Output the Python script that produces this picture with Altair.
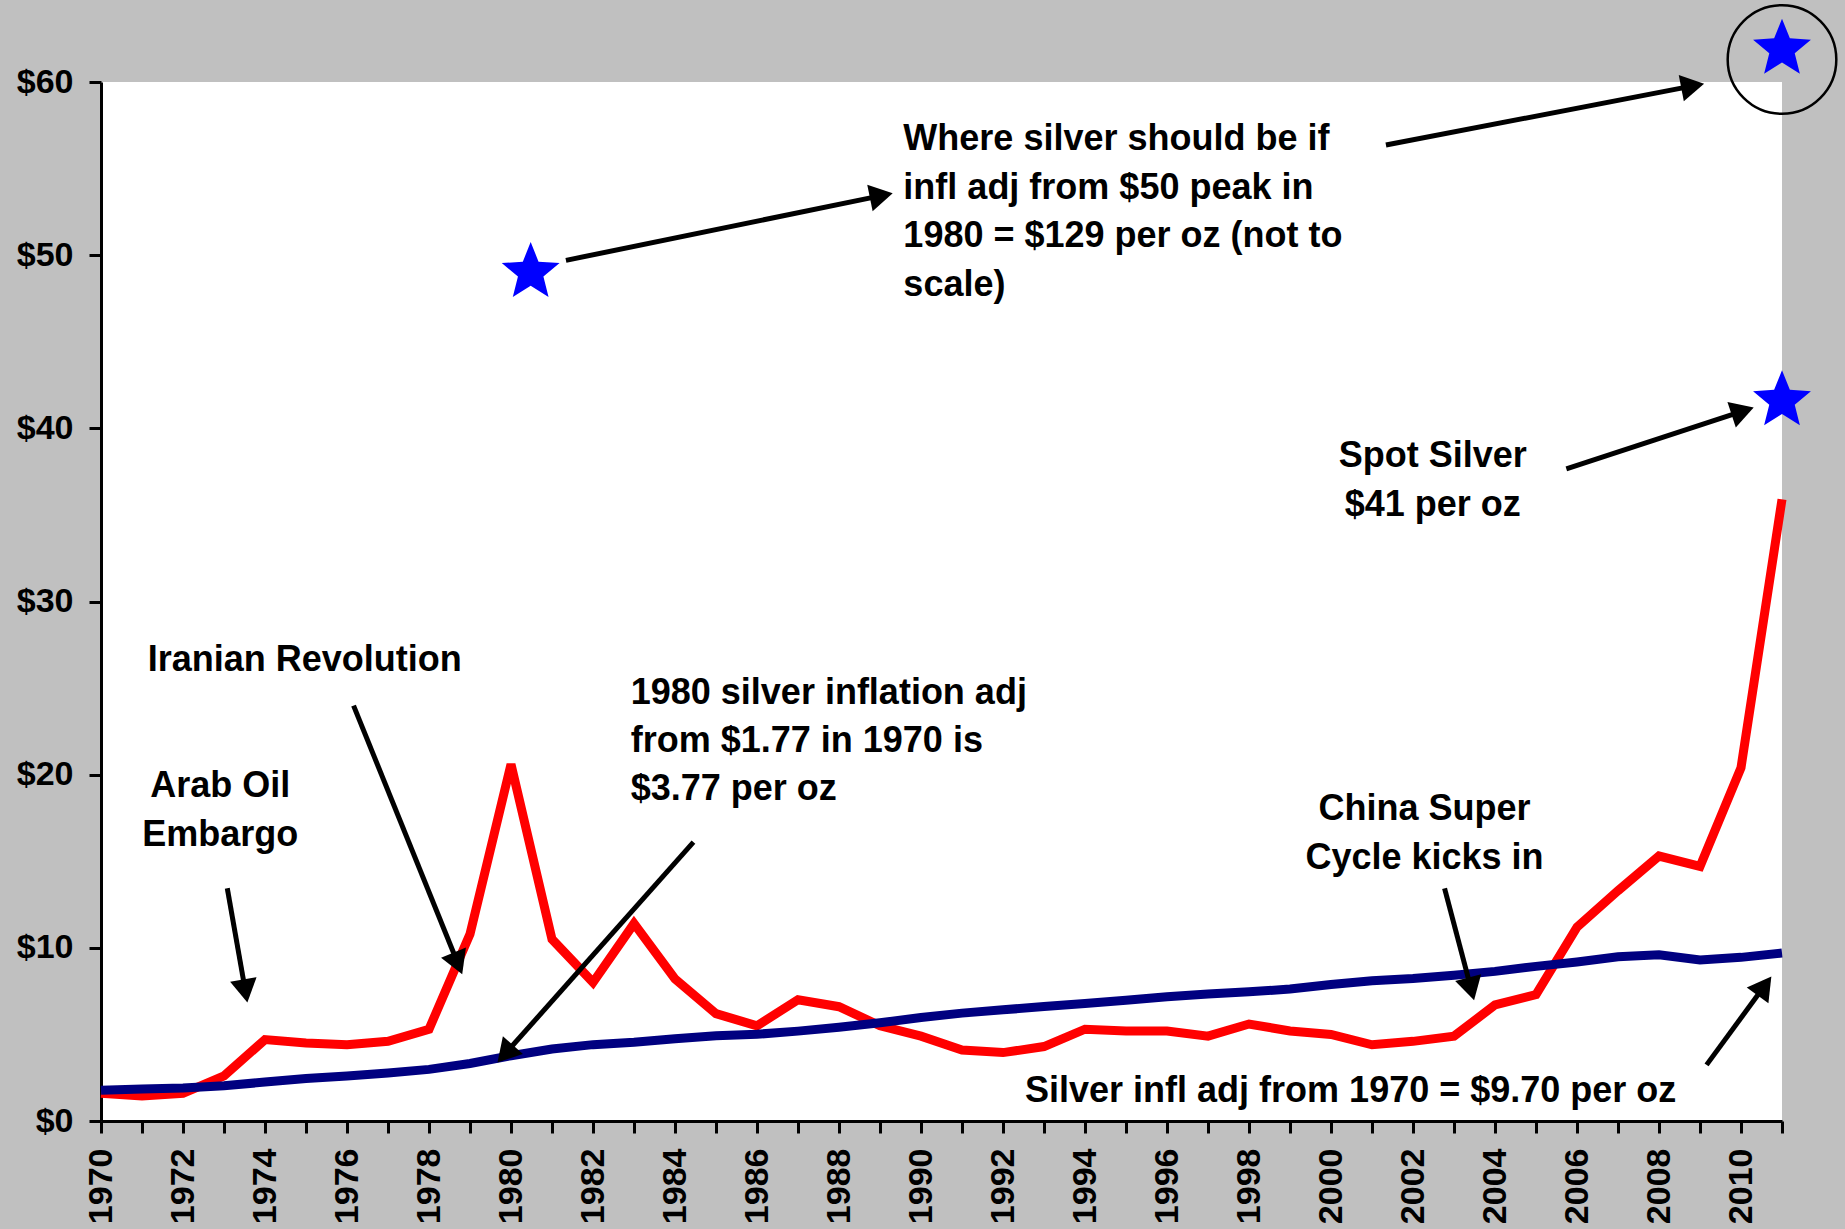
import math
import altair as alt
import pandas as pd

# ---------------- data ----------------
years = list(range(1970, 2012))
spot_silver = [1.6, 1.45, 1.6, 2.6, 4.7, 4.5, 4.4, 4.6, 5.3, 10.8,
               20.6, 10.5, 8.0, 11.4, 8.2, 6.2, 5.5, 7.0, 6.6, 5.5,
               4.9, 4.1, 3.95, 4.3, 5.3, 5.2, 5.2, 4.9, 5.6, 5.2,
               5.0, 4.4, 4.6, 4.9, 6.7, 7.3, 11.2, 13.3, 15.3, 14.7,
               20.4, 35.9]
infl_adj = [1.77, 1.85, 1.91, 2.03, 2.25, 2.46, 2.60, 2.77, 2.98, 3.32,
            3.77, 4.16, 4.41, 4.55, 4.75, 4.92, 5.01, 5.19, 5.41, 5.67,
            5.98, 6.23, 6.42, 6.61, 6.78, 6.97, 7.18, 7.34, 7.46, 7.62,
            7.88, 8.10, 8.23, 8.42, 8.64, 8.93, 9.18, 9.48, 9.60, 9.30,
            9.45, 9.70]

y_ticks = [0, 10, 20, 30, 40, 50, 60]

star_x = [1980.48, 2011.0, 2011.0]
star_y = [49.0, 61.9, 41.6]
circle_x = [2011.0]
circle_y = [61.3]

left_text = ["Where silver should be if", "infl adj from $50 peak in",
             "1980 = $129 per oz (not to", "scale)",
             "1980 silver inflation adj", "from $1.77 in 1970 is", "$3.77 per oz"]
left_x = [1989.57, 1989.57, 1989.57, 1989.57, 1982.92, 1982.92, 1982.92]
left_y = [56.7, 53.9, 51.1, 48.3, 24.74, 21.95, 19.16]

center_text = ["Iranian Revolution", "Arab Oil", "Embargo", "China Super",
               "Cycle kicks in", "Spot Silver", "$41 per oz",
               "Silver infl adj from 1970 = $9.70 per oz"]
center_x = [1974.97, 1972.91, 1972.91, 2002.28, 2002.28, 2002.48, 2002.48, 2000.48]
center_y = [26.65, 19.36, 16.5, 18.0, 15.21, 38.4, 35.55, 1.73]

arrow_x1 = [1973.08, 1976.16, 1984.45, 1981.34, 2001.34, 2005.74, 2002.77, 2009.16]
arrow_y1 = [13.44, 23.99, 16.1, 49.7, 56.36, 37.66, 13.44, 3.24]
arrow_x2 = [1973.57, 1978.81, 1979.67, 1989.31, 2009.1, 2010.31, 2003.49, 2010.74]
arrow_y2 = [6.85, 8.48, 3.38, 53.57, 59.9, 41.2, 6.98, 8.34]

# ---------------- layout ----------------
W, H = 1681, 1039
X_DOM = [1970, 2011]
Y_DOM = [0, 60]
px_year = W / (X_DOM[1] - X_DOM[0])
px_dollar = H / (Y_DOM[1] - Y_DOM[0])
HEAD_SIZE = 720
head_r = math.sqrt(HEAD_SIZE) / 2
head_h = math.sqrt(3) / 2 * head_r

rows_line, rows_head = [], []
for x1, y1, x2, y2 in zip(arrow_x1, arrow_y1, arrow_x2, arrow_y2):
    dx = (x2 - x1) * px_year
    dy = -(y2 - y1) * px_dollar
    L = math.hypot(dx, dy)
    ux, uy = dx / L, dy / L
    back = head_h * 1.2
    ex = x2 - (back * ux) / px_year
    ey = y2 + (back * uy) / px_dollar
    hx = x2 - (head_h * ux) / px_year
    hy = y2 + (head_h * uy) / px_dollar
    ang = math.degrees(math.atan2(ux, -uy)) % 360
    rows_line.append({"x": x1, "y": y1, "x2": ex, "y2": ey})
    rows_head.append({"x": hx, "y": hy, "angle": ang})

# five-pointed star path in unit coordinates
pts = []
for k in range(10):
    a = math.radians(-90 + 36 * k)
    r = 1.0 if k % 2 == 0 else 0.44
    pts.append((r * math.cos(a), r * math.sin(a)))
STAR_PATH = "M" + "L".join(f"{px:.4f},{py:.4f}" for px, py in pts) + "Z"

df = pd.DataFrame({"year": years, "spot": spot_silver, "infl": infl_adj})
df_stars = pd.DataFrame({"x": star_x, "y": star_y})
df_circle = pd.DataFrame({"x": circle_x, "y": circle_y})
df_left = pd.DataFrame({"t": left_text, "x": left_x, "y": left_y})
df_center = pd.DataFrame({"t": center_text, "x": center_x, "y": center_y})
df_arrow = pd.DataFrame(rows_line)
df_head = pd.DataFrame(rows_head)

FONT = "Liberation Sans"

xscale = alt.Scale(domain=X_DOM, nice=False, zero=False)
yscale = alt.Scale(domain=Y_DOM, nice=False, zero=True)

x_axis = alt.Axis(orient="bottom", values=years,
                  labelExpr="datum.value % 2 == 0 ? datum.value : ''",
                  labelAngle=270, title=None, grid=False, labelOverlap=False,
                  labelFont=FONT, labelFontWeight="bold", labelFontSize=34,
                  labelColor="black", labelPadding=15,
                  domainColor="black", domainWidth=3, tickColor="black",
                  tickWidth=3, tickSize=12)
y_axis = alt.Axis(orient="left", values=y_ticks, labelExpr="'$' + datum.value",
                  title=None, grid=False,
                  labelFont=FONT, labelFontWeight="bold", labelFontSize=34,
                  labelColor="black", labelPadding=16,
                  domainColor="black", domainWidth=3, tickColor="black",
                  tickWidth=3, tickSize=12)


def xy(xf="x", yf="y"):
    return dict(x=alt.X(f"{xf}:Q", scale=xscale, axis=x_axis),
                y=alt.Y(f"{yf}:Q", scale=yscale, axis=y_axis))


base = alt.Chart(df)
red = base.mark_line(color="#FF0000", strokeWidth=9).encode(**xy("year", "spot"))
blue = base.mark_line(color="#000080", strokeWidth=9).encode(**xy("year", "infl"))

arrows = alt.Chart(df_arrow).mark_rule(color="black", strokeWidth=5).encode(
    x2="x2:Q", y2="y2:Q", **xy())
heads = alt.Chart(df_head).mark_point(shape="triangle-up", filled=True, color="black",
                                      opacity=1, size=HEAD_SIZE).encode(
    angle=alt.Angle("angle:Q", scale=None), **xy())

stars = alt.Chart(df_stars).mark_point(shape=STAR_PATH, filled=True, color="#0000FF",
                                       opacity=1, size=3700).encode(**xy())
circle = alt.Chart(df_circle).mark_point(shape="circle", filled=False, color="black",
                                         opacity=1, size=11800, strokeWidth=2.5).encode(**xy())

txt_left = alt.Chart(df_left).mark_text(align="left", baseline="middle", font=FONT,
                                        fontWeight="bold", fontSize=36, color="black").encode(
    text="t:N", **xy())
txt_center = alt.Chart(df_center).mark_text(align="center", baseline="middle", font=FONT,
                                            fontWeight="bold", fontSize=36, color="black").encode(
    text="t:N", **xy())

chart = alt.layer(red, blue, arrows, heads, stars, circle, txt_left, txt_center).properties(
    width=W, height=H,
    autosize=alt.AutoSizeParams(type="none"),
    padding={"left": 101, "top": 82, "right": 63, "bottom": 108},
    background="#C0C0C0",
).configure_view(fill="white", stroke=None)

chart.save("out.html", embed_options={"renderer": "svg", "actions": False})
